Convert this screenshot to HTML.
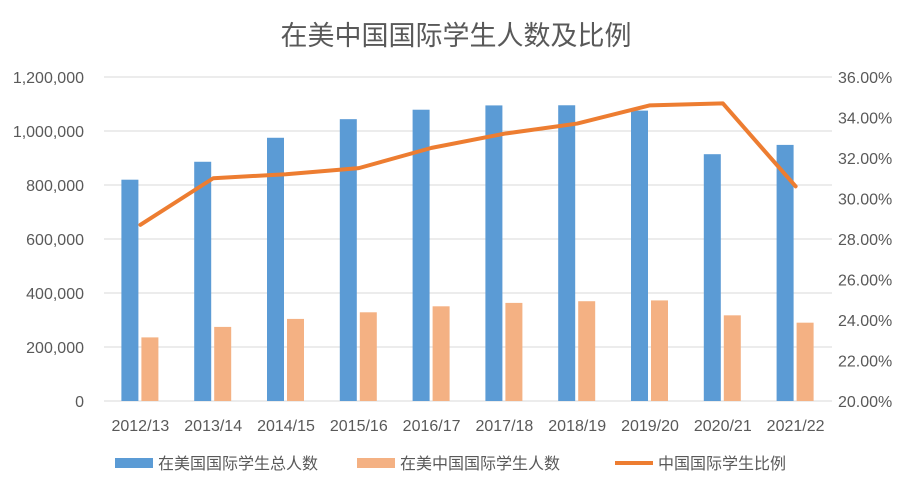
<!DOCTYPE html>
<html><head><meta charset="utf-8"><style>
body{margin:0;background:#fff;}
svg text{font-family:"Liberation Sans","Noto Sans CJK SC",sans-serif;fill:#595959;}
</style></head><body>
<svg id="chart" width="912" height="488" xmlns="http://www.w3.org/2000/svg">
<text x="456" y="45" text-anchor="middle" font-size="27">在美中国国际学生人数及比例</text>
<g id="grid"></g><g id="bars"></g><g id="line"></g><g id="axes"></g>
<g>
<rect x="115" y="458" width="38" height="10" fill="#5b9bd5"/>
<text x="158" y="469" font-size="16">在美国国际学生总人数</text>
<rect x="357" y="458" width="38" height="10" fill="#f4b183"/>
<text x="400" y="469" font-size="16">在美中国国际学生人数</text>
<rect x="615" y="461" width="38" height="4" fill="#ed7d31"/>
<text x="658" y="469" font-size="16">中国国际学生比例</text>
</g>
</svg>
<script>
const categories=["2012/13","2013/14","2014/15","2015/16","2016/17","2017/18","2018/19","2019/20","2020/21","2021/22"];
const totalStudents=[819644,886052,974926,1043839,1078822,1094792,1095299,1075496,914095,948519];
const chinaStudents=[235597,274439,304040,328547,350755,363341,369548,372532,317299,290086];
const chinaRatio=[28.7,31.0,31.2,31.5,32.5,33.2,33.7,34.6,34.7,30.6];
const leftTicks=[0,200000,400000,600000,800000,1000000,1200000];
const rightTicks=[20,22,24,26,28,30,32,34,36];
const NS="http://www.w3.org/2000/svg";
const L=104,R=832,T=77,B=401;
const step=(R-L)/categories.length;
const yL=v=>B-(v/1200000)*(B-T);
const yR=v=>B-((v-20)/16)*(B-T);
const xC=i=>L+step*(i+0.5);
function mk(tag,attrs,parent,txt){const e=document.createElementNS(NS,tag);for(const k in attrs)e.setAttribute(k,attrs[k]);if(txt!==undefined)e.textContent=txt;document.getElementById(parent).appendChild(e);return e;}
leftTicks.forEach(v=>{
 const g=mk('line',{x1:L,x2:R,y1:yL(v),y2:yL(v),stroke:'#d9d9d9','stroke-width':1},'grid');
 
 
 const t=mk('text',{x:L-20,y:yL(v)+6,'font-size':16,'text-anchor':'end'},'axes',v.toLocaleString('en-US'));
 
 
});
rightTicks.forEach(v=>{
 const t=mk('text',{x:R+6,y:yR(v)+6,'font-size':16},'axes',v.toFixed(2)+'%');
 
 
});
categories.forEach((c,i)=>{
 const t=mk('text',{x:xC(i),y:431,'font-size':16,'text-anchor':'middle'},'axes',c);
 
 
 const b1=mk('rect',{x:xC(i)-19,y:yL(totalStudents[i]),width:17,height:B-yL(totalStudents[i]),fill:'#5b9bd5'},'bars');
 
 
 const b2=mk('rect',{x:xC(i)+1,y:yL(chinaStudents[i]),width:17,height:B-yL(chinaStudents[i]),fill:'#f4b183'},'bars');
 
 
});
const pl=mk('polyline',{points:chinaRatio.map((v,i)=>xC(i)+','+yR(v)).join(' '),fill:'none',stroke:'#ed7d31','stroke-width':4,'stroke-linejoin':'round','stroke-linecap':'round'},'line');


</script>
</body></html>
